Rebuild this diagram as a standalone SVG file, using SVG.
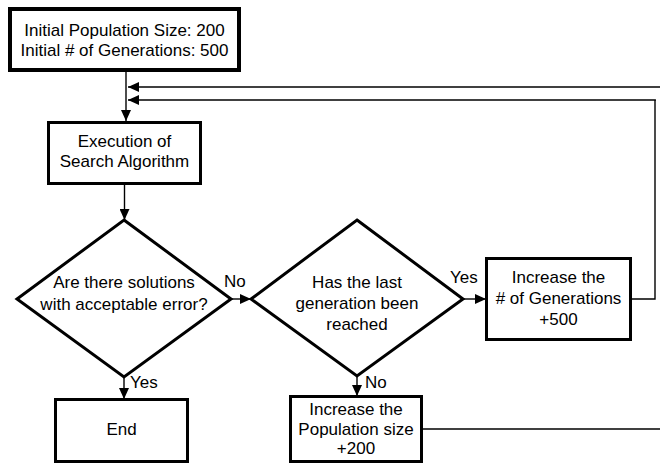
<svg xmlns="http://www.w3.org/2000/svg" width="660" height="466" viewBox="0 0 660 466">
  <style>
    .box { fill: #fff; stroke: #000; stroke-width: 3; }
    .start { stroke-width: 4; }
    .dec { fill: #fff; stroke: #000; stroke-width: 3; stroke-linejoin: miter; }
    .lbl { font-family: "Liberation Sans", Arial, sans-serif; font-size: 17px; fill: #000; text-anchor: middle; }
    .tag { font-family: "Liberation Sans", Arial, sans-serif; font-size: 17px; fill: #000; }
    .wire { fill: none; stroke: #000; stroke-width: 1.4; }
  </style>
  <defs>
    <marker id="arrow" markerUnits="userSpaceOnUse" markerWidth="12" markerHeight="10" viewBox="0 0 12 10" refX="11" refY="5" orient="auto">
      <path d="M0,0 L11,5 L0,10 Z" fill="#000"/>
    </marker>
  </defs>
  <rect width="660" height="466" fill="#fff"/>

  <g id="connectors">
    <line class="wire" x1="126" y1="72" x2="126" y2="121" stroke="#333" marker-end="url(#arrow)"/>
    <line class="wire" x1="660" y1="87" x2="128" y2="87" stroke="#333" marker-end="url(#arrow)"/>
    <path class="wire" d="M632,299 H655 V100" stroke="#1a1a1a" stroke-width="1.8"/>
    <line class="wire" x1="655.9" y1="100" x2="128" y2="100" stroke="#8a8a8a" stroke-width="1.6" marker-end="url(#arrow)"/>
    <line class="wire" x1="124.5" y1="185" x2="124.5" y2="220" marker-end="url(#arrow)"/>
    <line class="wire" x1="231" y1="299" x2="251" y2="299" marker-end="url(#arrow)"/>
    <line class="wire" x1="463" y1="299" x2="486" y2="299" marker-end="url(#arrow)"/>
    <line class="wire" x1="124" y1="377" x2="124" y2="399" marker-end="url(#arrow)"/>
    <line class="wire" x1="357" y1="376" x2="357" y2="396" marker-end="url(#arrow)"/>
    <line class="wire" x1="423" y1="429" x2="660" y2="429"/>
    <text class="tag" x="224" y="287">No</text>
    <text class="tag" x="450" y="283">Yes</text>
    <text class="tag" x="130" y="388">Yes</text>
    <text class="tag" x="365" y="388">No</text>
  </g>

  <g id="init">
    <rect class="box start" x="10" y="9" width="229" height="61"/>
    <text class="lbl" x="124.5" y="36">Initial Population Size: 200</text>
    <text class="lbl" x="124.5" y="56">Initial # of Generations: 500</text>
  </g>

  <g id="search">
    <rect class="box" x="48.5" y="122.5" width="152" height="61"/>
    <text class="lbl" x="124.5" y="147">Execution of</text>
    <text class="lbl" x="124.5" y="167">Search Algorithm</text>
  </g>

  <g id="check-error">
    <polygon class="dec" points="124,220 231,299 124,377 17,299"/>
    <text class="lbl" x="124" y="288">Are there solutions</text>
    <text class="lbl" x="124" y="310">with acceptable error?</text>
  </g>

  <g id="check-last">
    <polygon class="dec" points="357,220 463,299 357,376 251,299"/>
    <text class="lbl" x="357" y="288">Has the last</text>
    <text class="lbl" x="357" y="309">generation been</text>
    <text class="lbl" x="357" y="330">reached</text>
  </g>

  <g id="more-generations">
    <rect class="box" x="486.5" y="258.5" width="144" height="81"/>
    <text class="lbl" x="558.5" y="283">Increase the</text>
    <text class="lbl" x="558.5" y="304"># of Generations</text>
    <text class="lbl" x="558.5" y="325">+500</text>
  </g>

  <g id="end">
    <rect class="box" x="55.5" y="399.5" width="132" height="62"/>
    <text class="lbl" x="121.5" y="435">End</text>
  </g>

  <g id="more-population">
    <rect class="box" x="290.5" y="396.5" width="131" height="65"/>
    <text class="lbl" x="356" y="415">Increase the</text>
    <text class="lbl" x="356" y="435">Population size</text>
    <text class="lbl" x="356" y="454">+200</text>
  </g>
</svg>
